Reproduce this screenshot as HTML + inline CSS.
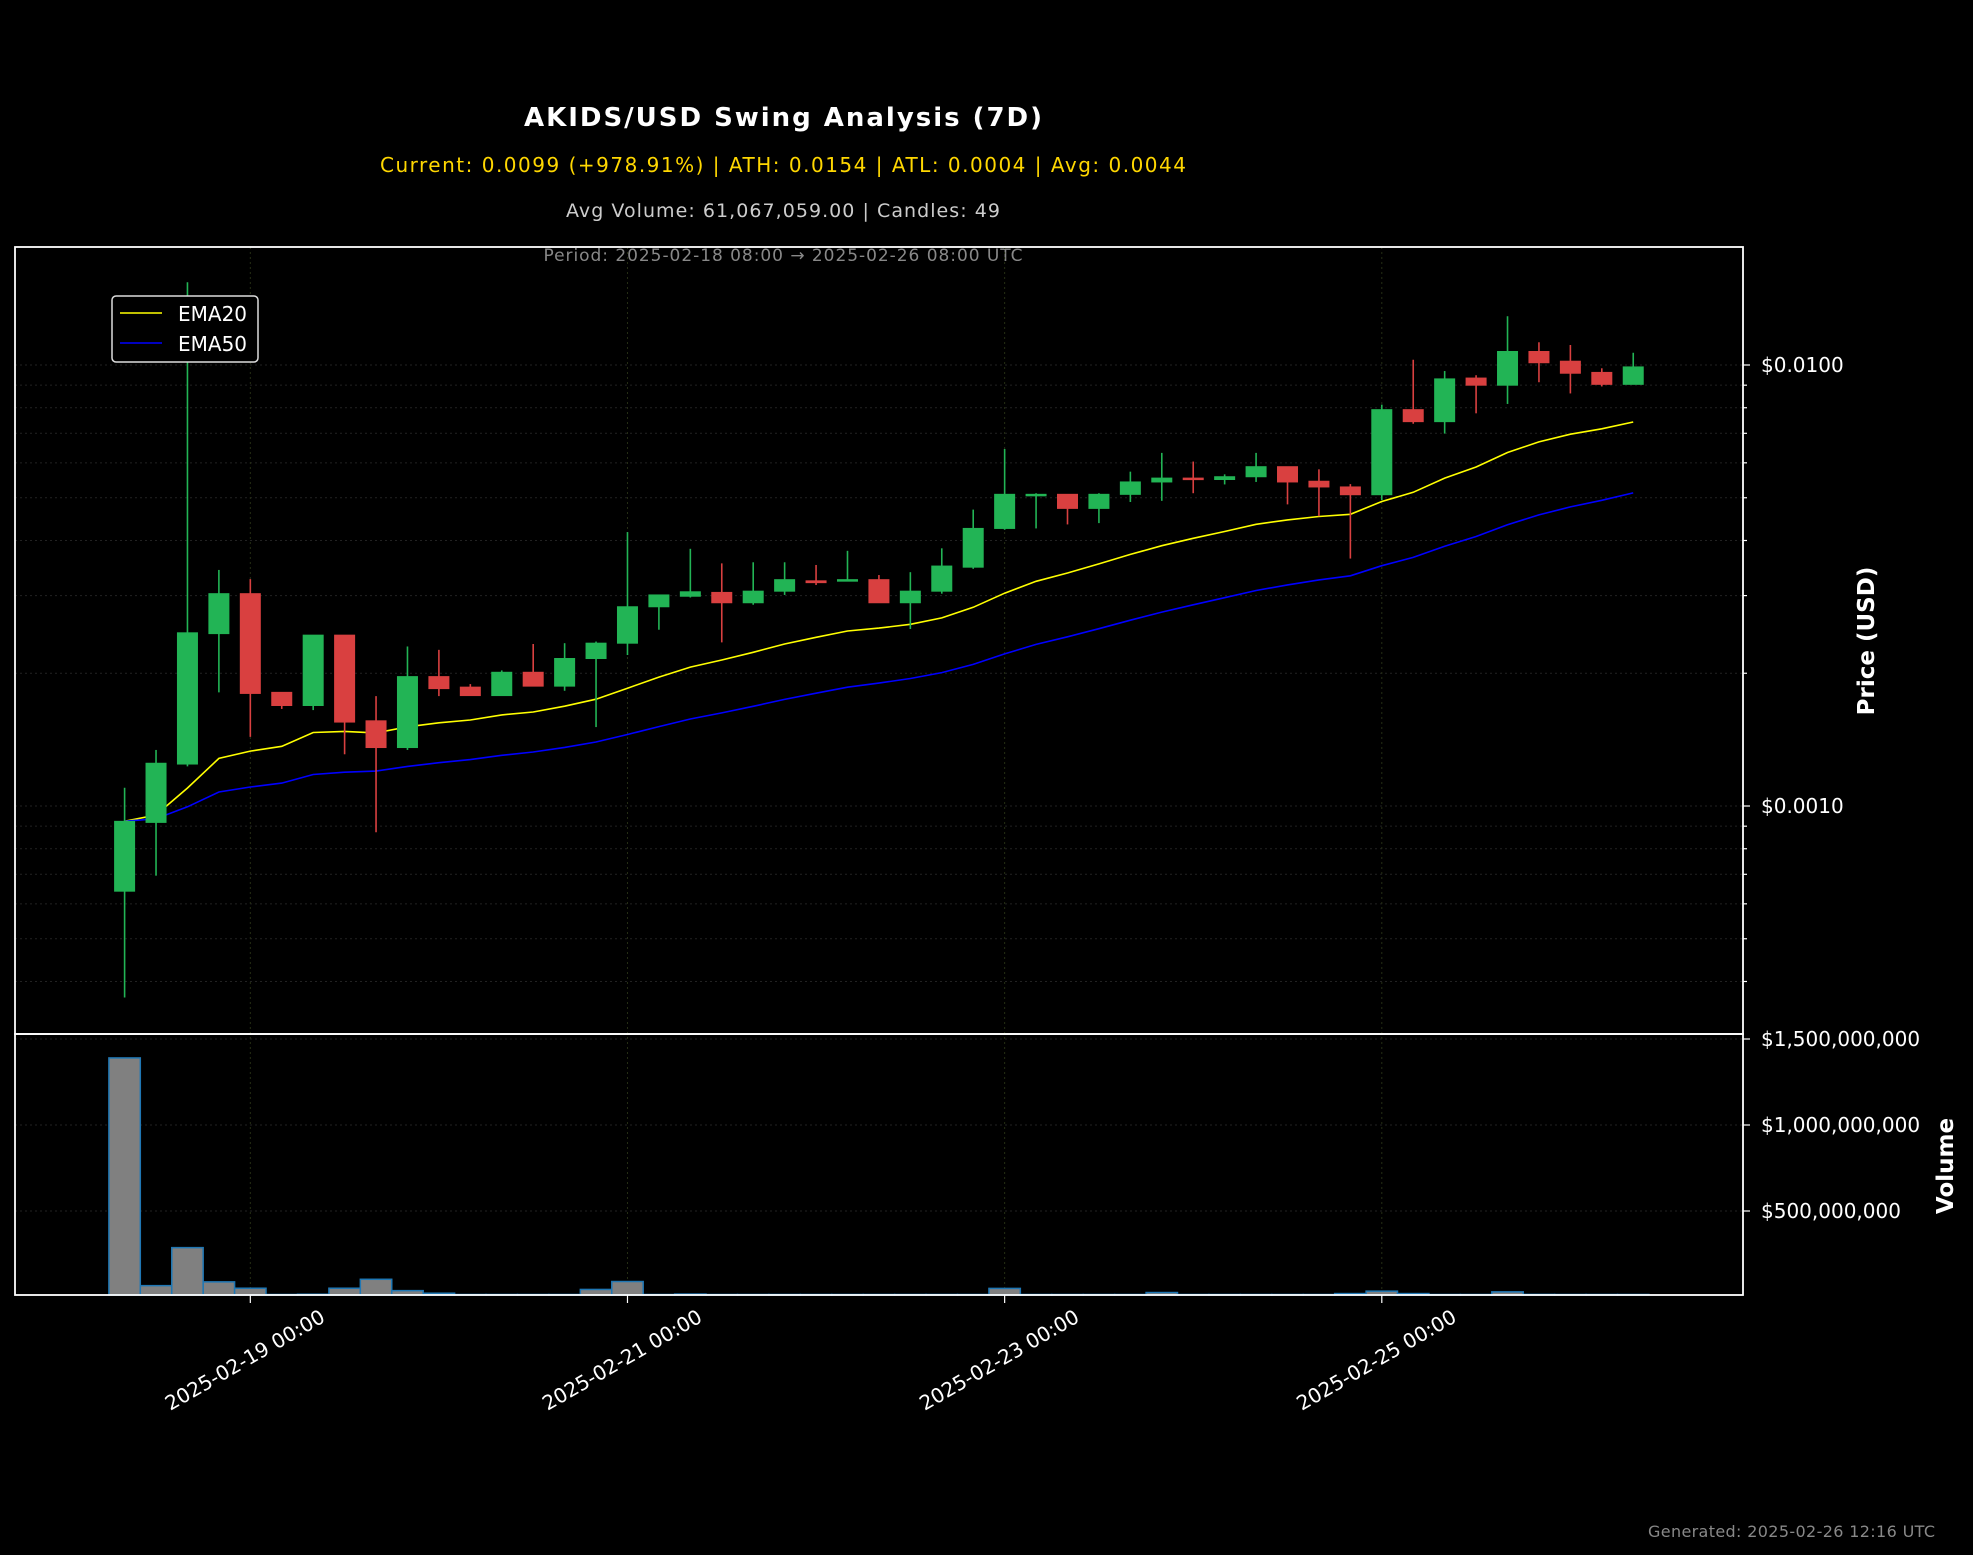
<!DOCTYPE html>
<html><head><meta charset="utf-8">
<style>
html,body{margin:0;padding:0;background:#000;}
svg{display:block;font-family:"DejaVu Sans","Liberation Sans",sans-serif;}
</style></head>
<body>
<svg id="chart" width="1973" height="1555" viewBox="0 0 1973 1555" xmlns="http://www.w3.org/2000/svg">
<rect x="0" y="0" width="1973" height="1555" fill="#000"/>
<text x="783" y="126" fill="#fff" font-size="26" font-weight="bold" text-anchor="middle" textLength="518">AKIDS/USD Swing Analysis (7D)</text>
<text x="783" y="172" fill="#ffd700" font-size="20" text-anchor="middle" textLength="806">Current: 0.0099 (+978.91%) | ATH: 0.0154 | ATL: 0.0004 | Avg: 0.0044</text>
<text x="783" y="217" fill="#cccccc" font-size="19" text-anchor="middle" textLength="434">Avg Volume: 61,067,059.00 | Candles: 49</text>
<text x="783" y="261" fill="#888" font-size="17" text-anchor="middle" textLength="479">Period: 2025-02-18 08:00 → 2025-02-26 08:00 UTC</text>
<text x="1935" y="1537" fill="#888" font-size="16" text-anchor="end" textLength="287">Generated: 2025-02-26 12:16 UTC</text>
<g id="grid"></g>
<g id="vol"></g>
<g id="ema"></g>
<g id="candles"></g>
<g id="axes"></g>
<g>
<rect x="112" y="296" width="146" height="66" rx="4" fill="#000" stroke="#ddd" stroke-width="1.5"/>
<line x1="120" y1="313" x2="162" y2="313" stroke="#ffff00" stroke-width="1.5"/>
<text x="178" y="321" fill="#fff" font-size="20">EMA20</text>
<line x1="120" y1="343" x2="162" y2="343" stroke="#0000ff" stroke-width="1.5"/>
<text x="178" y="351" fill="#fff" font-size="20">EMA50</text>
</g>
<text transform="translate(1874,641) rotate(-90)" fill="#fff" font-size="23" font-weight="bold" text-anchor="middle">Price (USD)</text>
<text transform="translate(1953,1166) rotate(-90)" fill="#fff" font-size="23" font-weight="bold" text-anchor="middle">Volume</text>
</svg>
<script>
const opens  = [0.000641,0.000918,0.001245,0.00246,0.00303,0.00181,0.00169,0.00244,0.00156,0.001357,0.001965,0.00186,0.00178,0.00201,0.00187,0.00216,0.00234,0.00283,0.00299,0.00305,0.00289,0.00307,0.00324,0.00324,0.00326,0.00289,0.00307,0.00348,0.00426,0.00508,0.00509,0.00473,0.00509,0.00543,0.00554,0.0055,0.00558,0.00588,0.00545,0.00529,0.00508,0.00792,0.00744,0.00934,0.009,0.01073,0.0102,0.00962,0.00904];
const highs  = [0.0011,0.00134,0.0154,0.00343,0.00327,0.00181,0.00244,0.00244,0.001775,0.0023,0.00226,0.00189,0.00203,0.00233,0.00234,0.00236,0.00418,0.00301,0.00383,0.00355,0.00357,0.00357,0.00352,0.00379,0.00334,0.00339,0.00384,0.0047,0.00645,0.00512,0.00509,0.00512,0.00573,0.00632,0.00604,0.00565,0.00632,0.00588,0.0058,0.00537,0.00813,0.01028,0.00969,0.00948,0.0129,0.01126,0.0111,0.00983,0.01066];
const lows   = [0.000368,0.000695,0.00123,0.00181,0.001435,0.00166,0.00165,0.00131,0.000872,0.00134,0.001775,0.00178,0.00178,0.00187,0.001825,0.00151,0.0022,0.00251,0.00297,0.00235,0.00286,0.00301,0.00317,0.00324,0.00289,0.00252,0.00303,0.00345,0.00423,0.00426,0.00435,0.00438,0.00489,0.00492,0.00512,0.00536,0.00543,0.00483,0.00454,0.00364,0.00494,0.00736,0.00699,0.00777,0.00816,0.00914,0.00862,0.00894,0.00904];
const closes = [0.000923,0.00125,0.00247,0.00303,0.0018,0.00169,0.00244,0.00155,0.001357,0.001965,0.001846,0.00178,0.00201,0.00187,0.00216,0.00234,0.00283,0.00301,0.00306,0.00289,0.00307,0.00326,0.00321,0.00326,0.00289,0.00307,0.0035,0.00426,0.00509,0.00509,0.00473,0.00509,0.00543,0.00554,0.0055,0.00558,0.00588,0.00543,0.00529,0.00508,0.00792,0.00744,0.0093,0.009,0.01073,0.01012,0.00958,0.00904,0.0099];
const volumes = [1.39e9,6.6e7,2.87e8,8.8e7,5.1e7,6e6,1.6e7,5.1e7,1.03e8,3.7e7,2.2e7,4e6,3e6,8e6,1e7,4.4e7,9e7,8e6,1.7e7,8e6,8e6,4e6,3e6,3e6,3e6,8e6,8e6,1.2e7,5e7,3e6,3e6,3e6,8e6,2.6e7,6e6,3e6,3e6,8e6,1e7,2e7,3.4e7,2e7,6e6,1e7,3e7,1.5e7,6e6,3e6,2e6];
const dateTickIdx = [4,16,28,40];
const dateTickLabels = ["2025-02-19 00:00","2025-02-21 00:00","2025-02-23 00:00","2025-02-25 00:00"];
const priceTicks = [0.001,0.01];
const priceTickLabels = ["$0.0010","$0.0100"];
const volTicks = [5e8,1e9,1.5e9];
const volTickLabels = ["$500,000,000","$1,000,000,000","$1,500,000,000"];

const NS="http://www.w3.org/2000/svg";
const L=15,R=1743,PT=247,PB=1034,VB=1295;
const xs=i=>124.6+31.43*i;
const yp=p=>365-(Math.log10(p)+2)*441;
const yv=v=>1297-v*86/5e8;
function mk(tag,attrs,parent){const e=document.createElementNS(NS,tag);for(const k in attrs)e.setAttribute(k,attrs[k]);parent.appendChild(e);return e;}
const grid=document.getElementById('grid'),vol=document.getElementById('vol'),ema=document.getElementById('ema'),cg=document.getElementById('candles'),axes=document.getElementById('axes');

for(let d=-4;d<=-1;d++){for(let m=1;m<=9;m++){const p=m*Math.pow(10,d);const y=yp(p);if(y<PT||y>PB)continue;
 const g=mk('line',{x1:L,x2:R,y1:y,y2:y,stroke:'#222','stroke-width':1,'stroke-dasharray':'2,3'},grid);
 
 const t=mk('line',{x1:R,x2:R+(m===1?7:4),y1:y,y2:y,stroke:'#fff','stroke-width':1.2},axes);
 }}
volTicks.forEach((v,i)=>{const y=yv(v);
 const g=mk('line',{x1:L,x2:R,y1:y,y2:y,stroke:'#222','stroke-width':1,'stroke-dasharray':'2,3'},grid);
 
 const t=mk('line',{x1:R,x2:R+7,y1:y,y2:y,stroke:'#fff','stroke-width':1.2},axes);
 
 const tx=mk('text',{x:1761,y:y+7,fill:'#fff','font-size':20},axes);tx.textContent=volTickLabels[i];
 });
priceTicks.forEach((p,i)=>{const y=yp(p);
 const tx=mk('text',{x:1761,y:y+7,fill:'#fff','font-size':20},axes);tx.textContent=priceTickLabels[i];
 });
dateTickIdx.forEach((ix,i)=>{const x=xs(ix);
 const g=mk('line',{x1:x,x2:x,y1:PT,y2:VB,stroke:'#262e14','stroke-width':1,'stroke-dasharray':'2,3'},grid);
 
 const t=mk('line',{x1:x,x2:x,y1:VB,y2:VB+8,stroke:'#fff','stroke-width':1.2},axes);
 
 const tx=mk('text',{transform:`translate(${x-2},${1366}) rotate(-30)`,fill:'#fff','font-size':20,'text-anchor':'middle'},axes);tx.textContent=dateTickLabels[i];
 });

volumes.forEach((v,i)=>{const y=yv(v);const b=mk('rect',{x:xs(i)-15.7,y:Math.min(y,VB-0.5),width:31.4,height:Math.max(VB-y,0.5),fill:'#808080',stroke:'#1f77b4','stroke-width':1.5},vol);
 });

function emaCalc(n){const a=2/(n+1);const out=[];let e=closes[0];closes.forEach((c,i)=>{e=i?a*c+(1-a)*e:c;out.push(e);});return out;}
[[20,'#ffff00','ema20-line'],[50,'#0000ff','ema50-line']].forEach(([n,col,name])=>{
 const pts=emaCalc(n).map((e,i)=>xs(i).toFixed(1)+','+yp(e).toFixed(1)).join(' ');
 const pl=mk('polyline',{points:pts,fill:'none',stroke:col,'stroke-width':1.6},ema);
 });

closes.forEach((c,i)=>{const o=opens[i];const up=c>=o;const col=up?'#22b455':'#d94040';const x=xs(i);
 const w=mk('line',{x1:x,x2:x,y1:yp(highs[i]),y2:yp(lows[i]),stroke:col,'stroke-width':1.6},cg);
 
 const yt=yp(Math.max(o,c)),yb=yp(Math.min(o,c));
 const b=mk('rect',{x:x-10,y:yt,width:20,height:Math.max(yb-yt,1.5),fill:col,stroke:col,'stroke-width':1},cg);
 });

const f1=mk('rect',{x:L,y:PT,width:R-L,height:PB-PT,fill:'none',stroke:'#fff','stroke-width':1.8},axes);

const f2=mk('rect',{x:L,y:PB,width:R-L,height:VB-PB,fill:'none',stroke:'#fff','stroke-width':1.8},axes);

</script>
</body></html>
